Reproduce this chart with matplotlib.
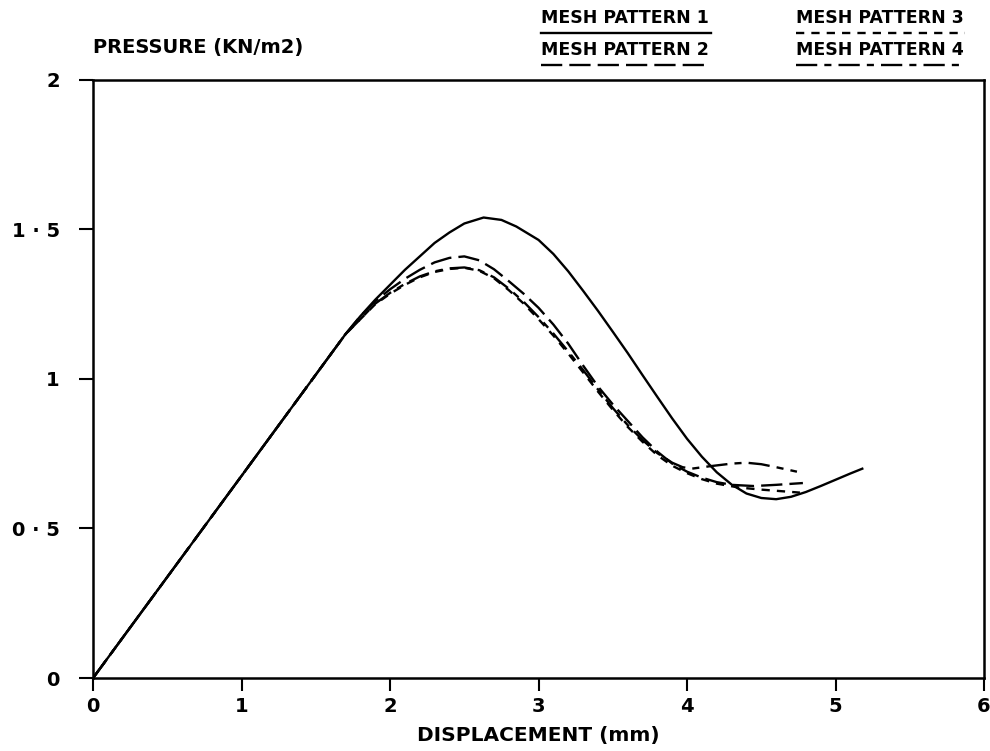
import numpy as np
import matplotlib.pyplot as plt
from matplotlib.lines import Line2D

# Data (displacement mm, pressure kN/m2)
x1 = [0, 1.0, 1.7, 1.8, 1.9, 2.0, 2.1, 2.2, 2.3, 2.4, 2.5, 2.63, 2.75, 2.85, 3.0, 3.1, 3.2, 3.3,
      3.4, 3.5, 3.6, 3.7, 3.8, 3.9, 4.0, 4.1, 4.2, 4.3, 4.4, 4.5, 4.6, 4.7, 4.8, 4.9, 5.0, 5.1, 5.18]
y1 = [0, 0.676, 1.15, 1.21, 1.265, 1.315, 1.365, 1.41, 1.455, 1.49, 1.52, 1.54, 1.532, 1.51,
      1.465, 1.418, 1.36, 1.295, 1.228, 1.158, 1.087, 1.013, 0.94, 0.868, 0.80, 0.74, 0.688,
      0.647, 0.617, 0.602, 0.598, 0.606, 0.622, 0.642, 0.663, 0.684, 0.70]

x2 = [0, 1.0, 1.7, 1.8, 1.9, 2.0, 2.1, 2.2, 2.3, 2.4, 2.5, 2.6, 2.7, 2.8, 2.9, 3.0, 3.1, 3.2,
      3.3, 3.4, 3.5, 3.6, 3.7, 3.8, 3.9, 4.0, 4.1, 4.2, 4.3, 4.45, 4.6, 4.78]
y2 = [0, 0.676, 1.15, 1.21, 1.26, 1.30, 1.335, 1.365, 1.39, 1.405, 1.41, 1.397, 1.367, 1.327,
      1.285, 1.238, 1.182, 1.118, 1.045, 0.975, 0.915, 0.86, 0.805, 0.757, 0.717, 0.69, 0.67,
      0.655, 0.646, 0.642, 0.646, 0.652]

x3 = [0, 1.0, 1.7, 1.8, 1.9, 2.0, 2.1, 2.2, 2.3, 2.4, 2.5, 2.6, 2.7, 2.8, 2.9, 3.0, 3.1, 3.2,
      3.3, 3.4, 3.5, 3.6, 3.7, 3.8, 3.9, 4.0, 4.1, 4.2, 4.35, 4.5, 4.76]
y3 = [0, 0.676, 1.15, 1.20, 1.25, 1.285, 1.315, 1.34, 1.358, 1.368, 1.372, 1.362, 1.337,
      1.297, 1.252, 1.20, 1.145, 1.085, 1.022, 0.958, 0.897, 0.84, 0.79, 0.745, 0.71, 0.685,
      0.665, 0.65, 0.637, 0.63, 0.62]

x4 = [0, 1.0, 1.7, 1.8, 1.9, 2.0, 2.1, 2.2, 2.3, 2.4, 2.5, 2.6, 2.7, 2.8, 2.9, 3.0, 3.1, 3.2,
      3.3, 3.4, 3.5, 3.6, 3.7, 3.8, 3.9, 3.97, 4.03, 4.15, 4.3, 4.4, 4.5, 4.6, 4.74]
y4 = [0, 0.676, 1.15, 1.20, 1.252, 1.288, 1.318, 1.343, 1.36, 1.37, 1.373, 1.364, 1.34,
      1.302, 1.258, 1.207, 1.152, 1.092, 1.03, 0.965, 0.903, 0.846, 0.796, 0.752, 0.72,
      0.705, 0.70, 0.708, 0.717, 0.72, 0.715, 0.705, 0.69]

xticks = [0, 1, 2, 3, 4, 5, 6]
yticks = [0, 0.5, 1, 1.5, 2]
ytick_labels = ['0', '0 \u00b7 5', '1', '1 \u00b7 5', '2']
labels = ['MESH PATTERN 1', 'MESH PATTERN 2', 'MESH PATTERN 3', 'MESH PATTERN 4']

styles = ['-', (0, (9, 3)), (0, (3.5, 3)), (0, (9, 3, 3, 3))]

plt.rcParams['font.family'] = ['DejaVu Sans']
plt.rcParams['font.weight'] = 'bold'
plt.rcParams['axes.labelweight'] = 'bold'

fig = plt.figure(figsize=(9.9, 7.51), dpi=100)
ax = fig.add_axes([0.094, 0.0972, 0.900, 0.7963])

for xs, ys, ls in zip([x1, x2, x3, x4], [y1, y2, y3, y4], styles):
    ax.plot(xs, ys, color='black', lw=1.7, linestyle=ls, solid_joinstyle='round')

ax.set_xlim(0, 6)
ax.set_ylim(0, 2)
ax.set_xticks(xticks)
ax.set_xticklabels([str(t) for t in xticks])
ax.set_yticks(yticks)
ax.set_yticklabels(ytick_labels)
ax.tick_params(axis='both', direction='out', length=9, width=1.5, labelsize=14, colors='black')
ax.tick_params(axis='x', pad=5)
ax.tick_params(axis='y', length=10, pad=14)
for s in ax.spines.values():
    s.set_linewidth(1.8)

ax.set_xlabel('DISPLACEMENT (mm)', fontsize=14.5, labelpad=7)
ax.text(0.0, 1.054, 'PRESSURE (KN/m2)', transform=ax.transAxes, fontsize=14,
        ha='left', va='center')

# legend: text with a sample of the line style underneath
pos = [(0.503, 1.104), (0.503, 1.050), (0.789, 1.104), (0.789, 1.050)]
for (px, py), lab, ls in zip(pos, labels, styles):
    ax.text(px, py, lab, transform=ax.transAxes, fontsize=12.5, ha='left', va='center')
    ax.add_line(Line2D([px, px + 0.19], [py - 0.025, py - 0.025], transform=ax.transAxes,
                       color='black', lw=1.7, linestyle=ls, clip_on=False))

fig.savefig('out.png', dpi=100)
